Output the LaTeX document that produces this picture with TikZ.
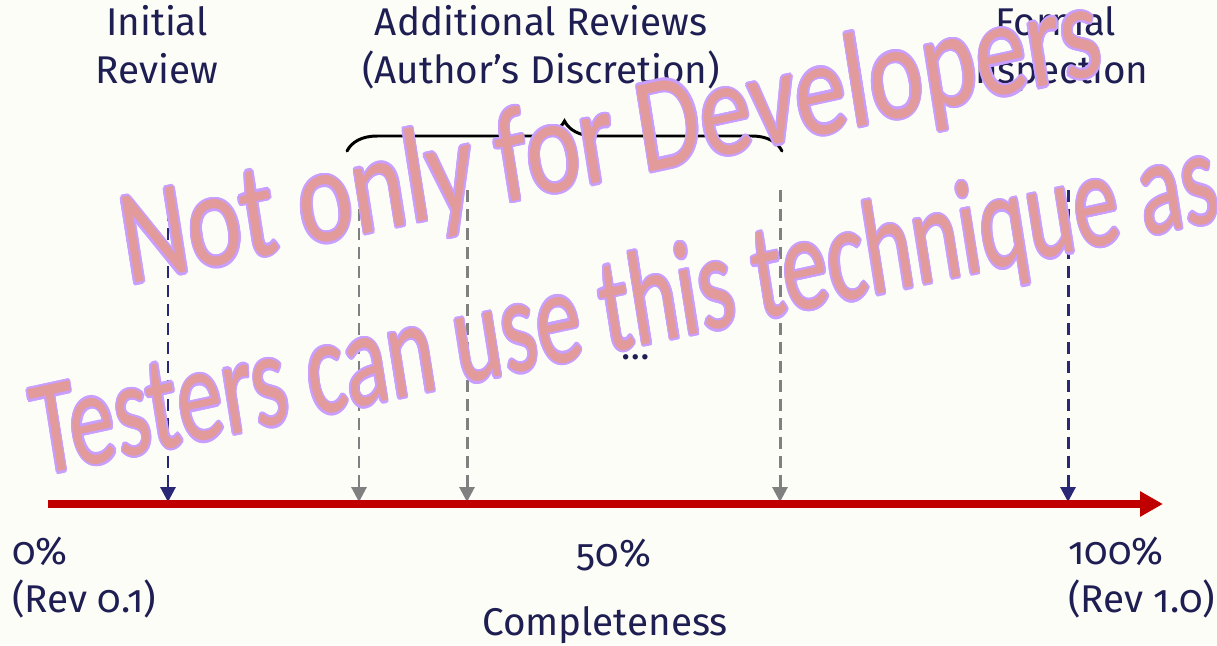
\documentclass[tikz,border=0pt]{standalone}
\usepackage{fontspec}
\setmainfont{Fira Sans}[Numbers=OldStyle]
\newfontfamily\markfont{Carlito}
\usetikzlibrary{arrows.meta,decorations.pathreplacing}

\definecolor{paper}{RGB}{253,253,248}
\definecolor{inkblue}{RGB}{30,30,82}
\definecolor{axisred}{RGB}{192,0,0}
\definecolor{arrnavy}{RGB}{40,40,118}
\definecolor{arrgray}{RGB}{128,128,128}
\definecolor{wmpink}{RGB}{227,154,154}
\definecolor{wmlilac}{RGB}{200,158,255}

\begin{document}
\begin{tikzpicture}[
  lbl/.style={text=inkblue, font=\fontsize{22}{27.2}\selectfont,
              inner sep=0pt, align=center},
  axisline/.style={draw=axisred, line width=4.3pt,
                   -{Triangle[length=0.46cm, width=0.48cm]}},
  keyarr/.style={draw=arrnavy, line width=1.7pt,
                 dash pattern=on 6.8pt off 4pt,
                 -{Triangle[length=0.3cm, width=0.3cm]}},
  optarr/.style={keyarr, draw=arrgray},
  bracepath/.style={decorate, decoration={brace, amplitude=0.6cm},
                    line width=1.7pt, line cap=round},
  wmfill/.style={text=wmpink, font=\markfont\fontsize{66}{66}\selectfont,
                 inner sep=0pt, anchor=base west, transform shape},
  wmedge/.style={wmfill, text=wmlilac}
]
  % paper
  \useasboundingbox (0,0) rectangle (24.34,-12.9);
  \fill[paper] (0,0) rectangle (24.34,-12.9);

  % headings (base = last line)
  \node[lbl, anchor=base] (init)   at (3.14,-1.66)  {Initial\\Review};
  \node[lbl, anchor=base] (extra)  at (10.82,-1.66) {Additional Reviews\\(Author’s Discretion)};
  \node[lbl, anchor=base] (formal) at (21.12,-1.66) {Formal\\Inspection};

  % brace over the optional reviews
  \coordinate (brl) at (6.94,-3.02);
  \coordinate (brr) at (15.64,-3.02);
  \draw[bracepath] (brl) -- (brr);

  % review points
  \foreach \x [count=\i] in {3.36,7.18,9.34,15.6,21.36} {
    \coordinate (top\i) at (\x,-3.8);
    \coordinate (tip\i) at (\x,-10.04);
  }
  \draw[keyarr] (top1) -- (tip1);
  \draw[keyarr] (top5) -- (tip5);
  \foreach \i in {2,3,4}
    \draw[optarr] (top\i) -- (tip\i);

  \node[lbl, anchor=base] (more) at (12.72,-7.18) {…};

  % completeness axis
  \coordinate (axstart) at (0.96,-10.08);
  \coordinate (axend) at (23.26,-10.08);
  \draw[axisline] (axstart) -- (axend);

  \node[lbl, anchor=base west, align=left] (zero) at (0.24,-12.24) {0\%\\(Rev 0.1)};
  \node[lbl, anchor=base] (half) at (12.28,-11.32) {50\%};
  \node[lbl, anchor=base west, align=left] (full) at (21.36,-12.24) {100\%\\(Rev 1.0)};
  \node[lbl, anchor=base] (axtitle) at (12.1,-12.7) {Completeness};

  % watermark
  \begin{scope}[shift={(2.56,-5.70)}, yscale=1.17, rotate=10.5, xscale=0.89]
    \foreach \a in {0,30,...,330}
      \node[wmedge] (wma\a) at (\a:0.04) {Not only for Developers};
    \node[wmfill] (wma) at (0,0) {Not only for Developers};
  \end{scope}
  \begin{scope}[shift={(0.8,-9.52)}, yscale=1.17, rotate=10.5, xscale=0.785]
    \foreach \a in {0,30,...,330}
      \node[wmedge] (wmb\a) at (\a:0.04) {Testers can use this technique as};
    \node[wmfill] (wmb) at (0,0) {Testers can use this technique as};
  \end{scope}
\end{tikzpicture}
\end{document}
